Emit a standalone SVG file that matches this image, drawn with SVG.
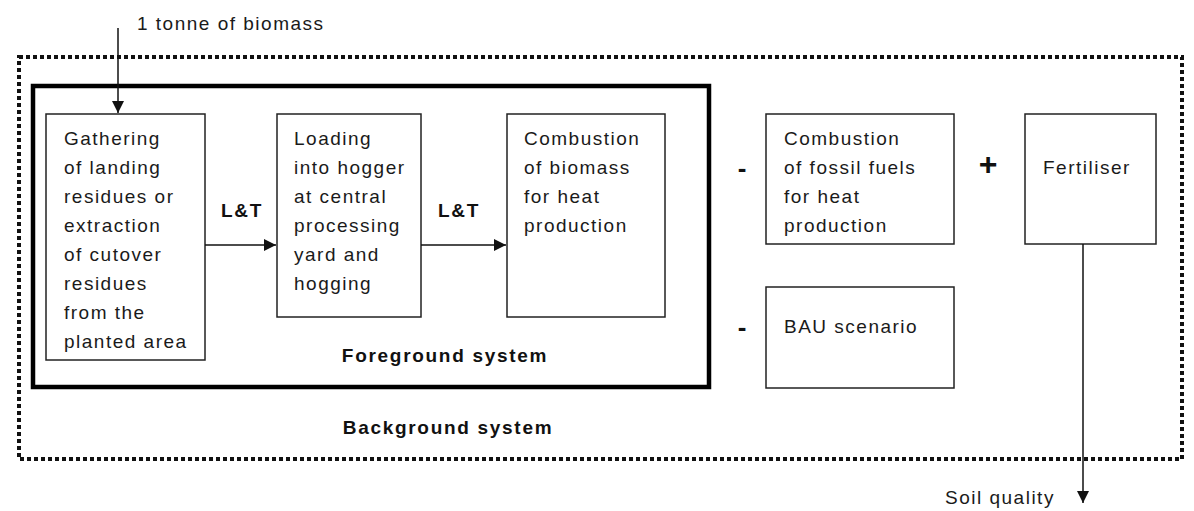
<svg xmlns="http://www.w3.org/2000/svg" width="1194" height="511" viewBox="0 0 1194 511">
<defs>
<style>
.t{font-family:"Liberation Sans",Arial,sans-serif;font-size:19px;letter-spacing:1.5px;fill:#1a1a1a}
.b{font-family:"Liberation Sans",Arial,sans-serif;font-size:19px;font-weight:bold;letter-spacing:1.7px;fill:#111}
.box{fill:#fff;stroke:#222;stroke-width:1.5}
.ln{stroke:#111;stroke-width:1.5;fill:none}
.sg{font-family:"Liberation Sans",Arial,sans-serif;font-weight:bold;fill:#111}
</style>
<marker id="ah" viewBox="0 0 12 12" refX="12" refY="6" markerWidth="12" markerHeight="12" markerUnits="userSpaceOnUse" orient="auto">
<path d="M0,0 L12,6 L0,12 z" fill="#111"/>
</marker>
</defs>
<rect width="1194" height="511" fill="#fff"/>
<g id="background-system">
<rect x="19" y="57" width="1163" height="402" fill="none" stroke="#111" stroke-width="4" stroke-dasharray="4 3"/>
<text class="b" x="448" y="434" text-anchor="middle">Background system</text>
</g>
<g id="foreground-system">
<rect x="33" y="86" width="676" height="301" fill="none" stroke="#000" stroke-width="4.5"/>
<text class="b" x="445" y="362" text-anchor="middle">Foreground system</text>
</g>
<g id="gathering">
<rect class="box" x="46" y="114" width="159" height="246"/>
<text class="t" x="64" y="145">Gathering</text>
<text class="t" x="64" y="174">of landing</text>
<text class="t" x="64" y="203">residues or</text>
<text class="t" x="64" y="232">extraction</text>
<text class="t" x="64" y="261">of cutover</text>
<text class="t" x="64" y="290">residues</text>
<text class="t" x="64" y="319">from the</text>
<text class="t" x="64" y="348">planted area</text>
</g>
<g id="loading">
<rect class="box" x="277" y="114" width="144" height="203"/>
<text class="t" x="294" y="145">Loading</text>
<text class="t" x="294" y="174">into hogger</text>
<text class="t" x="294" y="203">at central</text>
<text class="t" x="294" y="232">processing</text>
<text class="t" x="294" y="261">yard and</text>
<text class="t" x="294" y="290">hogging</text>
</g>
<g id="combustion-biomass">
<rect class="box" x="507" y="114" width="158" height="203"/>
<text class="t" x="524" y="145">Combustion</text>
<text class="t" x="524" y="174">of biomass</text>
<text class="t" x="524" y="203">for heat</text>
<text class="t" x="524" y="232">production</text>
</g>
<g id="combustion-fossil">
<rect class="box" x="766" y="114" width="188" height="130"/>
<text class="t" x="784" y="145">Combustion</text>
<text class="t" x="784" y="174">of fossil fuels</text>
<text class="t" x="784" y="203">for heat</text>
<text class="t" x="784" y="232">production</text>
</g>
<g id="bau">
<rect class="box" x="766" y="287" width="188" height="101"/>
<text class="t" x="784" y="333">BAU scenario</text>
</g>
<g id="fertiliser">
<rect class="box" x="1025" y="114" width="131" height="130"/>
<text class="t" x="1043" y="174">Fertiliser</text>
</g>
<g id="signs">
<text class="sg" x="742" y="177" font-size="26" text-anchor="middle">-</text>
<text class="sg" x="742" y="336" font-size="26" text-anchor="middle">-</text>
<text class="sg" x="988" y="175" font-size="32" text-anchor="middle">+</text>
</g>
<g id="connectors">
<line class="ln" x1="118" y1="28" x2="118" y2="113" marker-end="url(#ah)"/>
<text class="t" x="137" y="30">1 tonne of biomass</text>
<line class="ln" x1="205" y1="245" x2="276" y2="245" marker-end="url(#ah)"/>
<text class="b" x="242" y="217" text-anchor="middle">L&amp;T</text>
<line class="ln" x1="421" y1="245" x2="506" y2="245" marker-end="url(#ah)"/>
<text class="b" x="459" y="217" text-anchor="middle">L&amp;T</text>
<line class="ln" x1="1083" y1="244" x2="1083" y2="503" marker-end="url(#ah)"/>
<text class="t" x="945" y="504">Soil quality</text>
</g>
</svg>
